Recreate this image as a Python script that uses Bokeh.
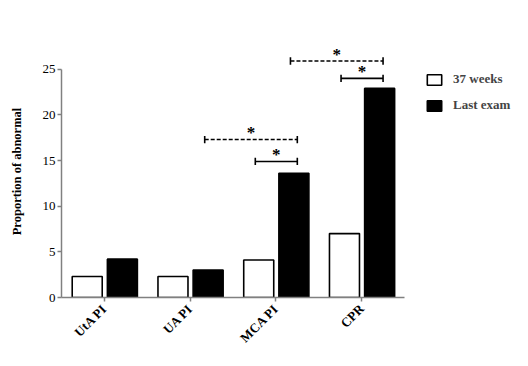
import math
from bokeh.plotting import figure
from bokeh.models import ColumnDataSource, Legend, LegendItem, FixedTicker, Range1d
from bokeh.core.properties import value
from bokeh.embed import file_html
from bokeh.resources import INLINE

# ---- data ----
categories = ["UtA PI", "UA PI", "MCA PI", "CPR"]
weeks37 = [2.3, 2.3, 4.1, 7.0]
last_exam = [4.2, 3.0, 13.6, 22.9]
series_names = ["37 weeks", "Last exam"]

# significance brackets: (from group, from series, to group, to series, height, dashed)
br_from_group = [2, 1, 3, 2]
br_from_series = [0, 1, 0, 1]
br_to_group = [2, 2, 3, 3]
br_to_series = [1, 1, 1, 1]
br_height = [14.9, 17.3, 24.0, 25.9]
br_dashed = [False, True, False, True]
br_label = ["*", "*", "*", "*"]

# ---- layout constants ----
FONT = "Liberation Serif"
offsets = [-0.2, 0.21]
bar_w = 0.35
pad = 0.04

centers = [i + 0.5 for i in range(len(categories))]

p = figure(width=512, height=350, output_backend="svg", toolbar_location=None,
           x_range=Range1d(0, 4), y_range=Range1d(0, 27.6),
           frame_width=343, frame_height=252,
           min_border_left=61, min_border_top=45, min_border_bottom=53,
           min_border_right=108)
p.outline_line_color = None
p.grid.visible = False
p.background_fill_color = "white"
p.border_fill_color = "white"

src_w = ColumnDataSource(dict(x=[c + offsets[0] for c in centers], top=weeks37))
src_b = ColumnDataSource(dict(x=[c + offsets[1] for c in centers], top=last_exam))
r_w = p.vbar(x="x", top="top", width=bar_w, source=src_w, fill_color="white",
             line_color="black", line_width=1.6)
r_b = p.vbar(x="x", top="top", width=bar_w, source=src_b, fill_color="black",
             line_color="black", line_width=1.6)

# brackets
def bx(g, s, side):
    return centers[g] + offsets[s] + side * pad

for dashed in (False, True):
    x0, x1, ys = [], [], []
    for i in range(len(br_height)):
        if br_dashed[i] != dashed:
            continue
        x0.append(bx(br_from_group[i], br_from_series[i], -1))
        x1.append(bx(br_to_group[i], br_to_series[i], 1))
        ys.append(br_height[i])
    if not ys:
        continue
    p.segment(x0=x0, y0=ys, x1=x1, y1=ys, line_color="black", line_width=1.6,
              line_dash="4 2" if dashed else "solid")
    # end caps
    capx = x0 + x1
    capy = ys + ys
    p.segment(x0=capx, y0=[y - 0.4 for y in capy], x1=capx, y1=[y + 0.4 for y in capy],
              line_color="black", line_width=1.6)

star_x = [(bx(br_from_group[i], br_from_series[i], -1) + bx(br_to_group[i], br_to_series[i], 1)) / 2
          for i in range(len(br_height))]
p.text(x=star_x, y=br_height, text=br_label, text_align="center", text_baseline="middle",
       y_offset=-7, text_font=value(FONT), text_font_style="bold", text_font_size="17px",
       text_color="black")

# axes
p.xaxis.ticker = FixedTicker(ticks=centers)
p.xaxis.major_label_overrides = {c: lab for c, lab in zip(centers, categories)}
p.xaxis.major_label_orientation = math.pi / 4
p.xaxis.major_label_text_font = FONT
p.xaxis.major_label_text_font_style = "bold"
p.xaxis.major_label_text_font_size = "13px"
p.xaxis.major_tick_in = 0
p.xaxis.major_tick_out = 4
p.xaxis.minor_tick_line_color = None

p.yaxis.ticker = FixedTicker(ticks=[0, 5, 10, 15, 20, 25])
p.yaxis.bounds = (0, 25)
p.yaxis.major_label_text_font = FONT
p.yaxis.major_label_text_font_size = "13px"
p.yaxis.major_tick_in = 0
p.yaxis.major_tick_out = 4
p.yaxis.minor_tick_line_color = None
p.yaxis.major_label_standoff = 2
p.yaxis.axis_label = "Proportion of abnormal"
p.yaxis.axis_label_text_font = FONT
p.yaxis.axis_label_text_font_style = "bold"
p.yaxis.axis_label_text_font_size = "12.5px"
p.yaxis.axis_label_standoff = 16

for ax in (p.xaxis, p.yaxis):
    ax.axis_line_color = "#808080"
    ax.axis_line_width = 1.5
    ax.major_tick_line_color = "#808080"
    ax.major_tick_line_width = 1.5
    ax.major_label_text_color = "black"
    ax.axis_label_text_color = "black"

legend = Legend(items=[LegendItem(label=series_names[0], renderers=[r_w]),
                       LegendItem(label=series_names[1], renderers=[r_b])],
                location=(21, 184))
legend.margin = 0
legend.padding = 0
legend.border_line_color = None
legend.background_fill_alpha = 0
legend.glyph_width = 18
legend.glyph_height = 13
legend.label_height = 13
legend.spacing = 10
legend.label_standoff = 10
legend.label_text_font = FONT
legend.label_text_font_style = "bold"
legend.label_text_font_size = "13px"
p.add_layout(legend, "right")

open("out.html", "w").write(file_html(p, INLINE))
